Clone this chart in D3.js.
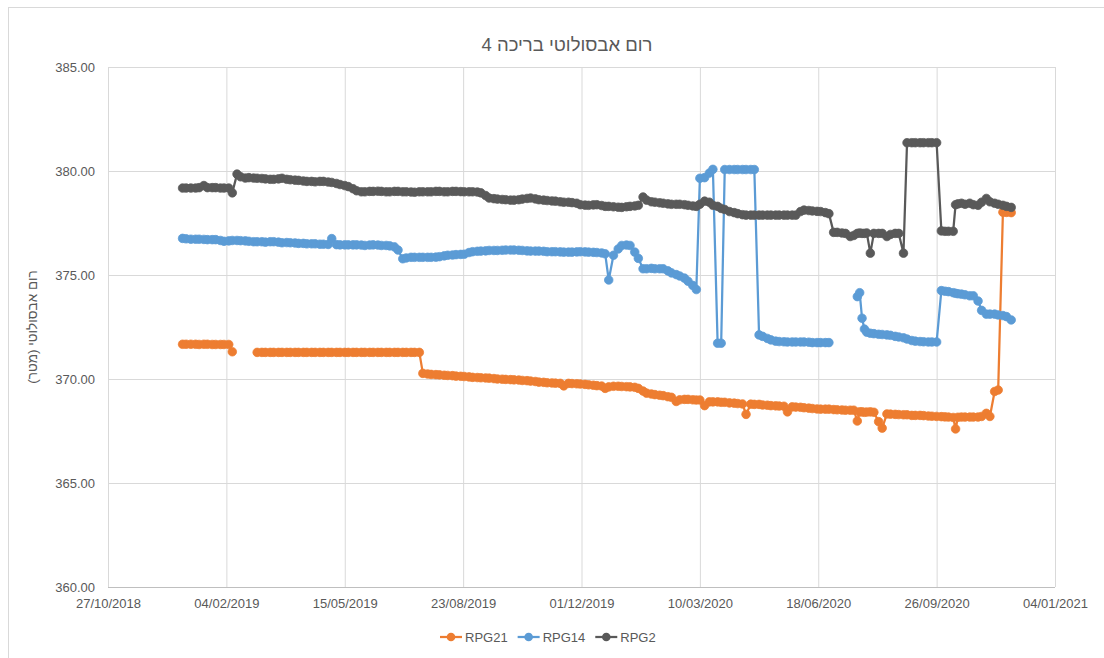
<!DOCTYPE html>
<html><head><meta charset="utf-8">
<script src="https://cdn.jsdelivr.net/npm/d3@7"></script>
<style>
body{margin:0;background:#fff;}
svg{display:block;font-family:"Liberation Sans","DejaVu Sans",Arial,sans-serif;}
</style></head><body>
<svg id="chart" width="1104" height="658"></svg>
<script>
// ---------- DATA ----------
const title = "רום אבסולוטי בריכה 4";
const yTitle = "רום אבסולוטי (מטר)";
const seriesNames = ["RPG21", "RPG14", "RPG2"];
const seriesColors = ["#ED7D31", "#5B9BD5", "#595959"];
const xTickLabels = ["27/10/2018","04/02/2019","15/05/2019","23/08/2019","01/12/2019","10/03/2020","18/06/2020","26/09/2020","04/01/2021"];
const yTickValues = [360, 365, 370, 375, 380, 385];

const dates = [
"2018-12-29","2019-01-01","2019-01-05","2019-01-09","2019-01-12","2019-01-16","2019-01-19","2019-01-23","2019-01-26","2019-01-30",
"2019-02-02","2019-02-06","2019-02-09","2019-02-13","2019-02-16","2019-02-20","2019-02-23","2019-02-27","2019-03-02","2019-03-06",
"2019-03-09","2019-03-13","2019-03-16","2019-03-20","2019-03-23","2019-03-27","2019-03-30","2019-04-03","2019-04-06","2019-04-10",
"2019-04-13","2019-04-17","2019-04-20","2019-04-24","2019-04-27","2019-05-01","2019-05-04","2019-05-08","2019-05-11","2019-05-15",
"2019-05-18","2019-05-22","2019-05-25","2019-05-29","2019-06-01","2019-06-05","2019-06-08","2019-06-12","2019-06-15","2019-06-19",
"2019-06-22","2019-06-26","2019-06-29","2019-07-03","2019-07-06","2019-07-10","2019-07-13","2019-07-17","2019-07-20","2019-07-24",
"2019-07-27","2019-07-31","2019-08-03","2019-08-07","2019-08-10","2019-08-14","2019-08-17","2019-08-21","2019-08-24","2019-08-28",
"2019-08-31","2019-09-04","2019-09-07","2019-09-11","2019-09-14","2019-09-18","2019-09-21","2019-09-25","2019-09-28","2019-10-02",
"2019-10-05","2019-10-09","2019-10-12","2019-10-16","2019-10-19","2019-10-23","2019-10-26","2019-10-30","2019-11-02","2019-11-06",
"2019-11-09","2019-11-13","2019-11-16","2019-11-20","2019-11-23","2019-11-27","2019-11-30","2019-12-04","2019-12-07","2019-12-11",
"2019-12-14","2019-12-18","2019-12-21","2019-12-24","2019-12-28","2020-01-01","2020-01-04","2020-01-08","2020-01-11","2020-01-15",
"2020-01-18","2020-01-22","2020-01-25","2020-01-29","2020-02-01","2020-02-05","2020-02-08","2020-02-12","2020-02-15","2020-02-19",
"2020-02-22","2020-02-26","2020-02-29","2020-03-04","2020-03-07","2020-03-10","2020-03-14","2020-03-18","2020-03-21","2020-03-25",
"2020-03-28","2020-03-31","2020-04-04","2020-04-08","2020-04-11","2020-04-15","2020-04-18","2020-04-22","2020-04-25","2020-04-29",
"2020-05-02","2020-05-06","2020-05-09","2020-05-13","2020-05-16","2020-05-20","2020-05-23","2020-05-27","2020-05-30","2020-06-03",
"2020-06-06","2020-06-10","2020-06-13","2020-06-17","2020-06-20","2020-06-24","2020-06-27","2020-07-01","2020-07-04","2020-07-08",
"2020-07-11","2020-07-15","2020-07-18","2020-07-21","2020-07-23","2020-07-25","2020-07-27","2020-07-29","2020-08-01","2020-08-04",
"2020-08-08","2020-08-11","2020-08-15","2020-08-18","2020-08-22","2020-08-25","2020-08-29","2020-09-01","2020-09-05","2020-09-08",
"2020-09-12","2020-09-15","2020-09-19","2020-09-22","2020-09-26","2020-09-30","2020-10-03","2020-10-06","2020-10-10","2020-10-12",
"2020-10-14","2020-10-17","2020-10-20","2020-10-24","2020-10-27","2020-10-31","2020-11-03","2020-11-07","2020-11-10","2020-11-14",
"2020-11-17","2020-11-21","2020-11-24","2020-11-28"
];

const rpg21 = [
371.67,371.67,371.67,371.67,371.66,371.67,371.67,371.66,371.66,371.66,
371.66,371.66,371.31,null,null,null,null,null,371.28,371.28,
371.28,371.28,371.28,371.28,371.28,371.28,371.28,371.28,371.28,371.28,
371.28,371.28,371.28,371.28,371.28,371.28,371.28,371.28,371.28,371.28,
371.28,371.28,371.28,371.28,371.28,371.28,371.28,371.28,371.28,371.28,
371.28,371.28,371.28,371.28,371.28,371.28,371.28,371.28,370.27,370.24,
370.22,370.21,370.20,370.18,370.17,370.16,370.14,370.13,370.12,370.10,
370.08,370.07,370.06,370.05,370.04,370.02,370.00,369.99,369.98,369.97,
369.96,369.95,369.93,369.92,369.90,369.88,369.85,369.84,369.82,369.81,
369.80,369.79,369.67,369.79,369.78,369.77,369.76,369.74,369.72,369.70,
369.68,369.66,369.55,369.62,369.65,369.65,369.64,369.63,369.62,369.60,
369.55,369.42,369.32,369.28,369.25,369.22,369.20,369.15,369.12,368.92,
369.00,369.02,369.02,369.00,368.99,368.99,368.72,368.90,368.90,368.90,
368.88,368.88,368.85,368.84,368.82,368.80,368.30,368.79,368.78,368.78,
368.75,368.74,368.72,368.71,368.70,368.69,368.42,368.66,368.65,368.64,
368.62,368.60,368.58,368.56,368.55,368.55,368.55,368.53,368.52,368.51,
368.50,368.50,368.50,367.98,368.42,368.42,368.40,368.41,368.42,368.40,
367.95,367.64,368.32,368.31,368.30,368.29,368.28,368.28,368.25,368.25,
368.25,368.24,368.22,368.21,368.20,368.19,368.18,368.17,368.15,367.60,
368.16,368.17,368.17,368.17,368.17,368.17,368.20,368.35,368.20,369.40,
369.47,378.02,378.01,378.00
];

const rpg14 = [
376.76,376.74,376.72,376.72,376.72,376.71,376.70,376.70,376.70,376.66,
376.62,376.64,376.66,376.66,376.65,376.64,376.62,376.60,376.60,376.60,
376.58,376.60,376.60,376.58,376.55,376.56,376.55,376.54,376.52,376.52,
376.50,376.50,376.50,376.48,376.48,376.47,376.75,376.46,376.45,376.45,
376.45,376.45,376.45,376.44,376.42,376.44,376.45,376.44,376.42,376.42,
376.40,376.35,376.20,375.78,375.82,375.85,375.85,375.85,375.85,375.85,
375.85,375.86,375.88,375.92,375.95,375.96,375.98,375.99,376.00,376.08,
376.12,376.14,376.15,376.16,376.18,376.18,376.18,376.19,376.20,376.20,
376.20,376.19,376.18,376.16,376.15,376.15,376.15,376.14,376.12,376.12,
376.12,376.11,376.10,376.10,376.10,376.11,376.12,376.11,376.10,376.09,
376.08,376.06,376.02,374.76,375.95,376.25,376.42,376.44,376.42,376.10,
375.80,375.30,375.30,375.32,375.30,375.30,375.30,375.20,375.10,375.02,
374.95,374.85,374.70,374.50,374.30,379.65,379.68,379.90,380.08,371.72,
371.72,380.07,380.07,380.07,380.07,380.07,380.07,380.07,380.07,372.12,
372.05,371.95,371.88,371.82,371.80,371.79,371.78,371.78,371.78,371.78,
371.78,371.77,371.75,371.75,371.75,371.75,371.75,null,null,null,
null,null,null,373.96,374.15,372.92,372.40,372.25,372.20,372.18,
372.15,372.14,372.12,372.10,372.05,372.02,371.98,371.92,371.85,371.82,
371.80,371.79,371.78,371.78,371.78,374.25,374.22,374.20,374.15,374.12,
374.10,374.08,374.05,374.00,374.00,373.75,373.30,373.12,373.12,373.12,
373.08,373.05,373.00,372.84
];

const rpg2 = [
379.18,379.18,379.18,379.18,379.20,379.30,379.20,379.20,379.20,379.18,
379.18,379.18,378.95,379.85,379.72,379.66,379.68,379.66,379.65,379.64,
379.62,379.60,379.60,379.62,379.65,379.60,379.58,379.56,379.55,379.52,
379.50,379.50,379.48,379.50,379.50,379.47,379.45,379.40,379.35,379.30,
379.25,379.15,379.05,379.00,379.00,379.02,379.02,379.03,379.02,379.00,
379.00,379.02,379.02,379.00,379.00,378.99,378.98,379.00,379.00,379.00,
379.00,379.02,379.02,379.00,379.00,379.02,379.02,379.01,379.00,379.00,
379.00,378.99,378.95,378.82,378.70,378.67,378.65,378.63,378.62,378.60,
378.60,378.62,378.65,378.68,378.70,378.66,378.62,378.60,378.58,378.56,
378.55,378.52,378.50,378.50,378.48,378.45,378.38,378.36,378.35,378.37,
378.38,378.34,378.30,378.30,378.28,378.26,378.25,378.28,378.30,378.32,
378.35,378.75,378.60,378.52,378.50,378.47,378.45,378.42,378.40,378.40,
378.40,378.38,378.35,378.32,378.30,378.40,378.55,378.50,378.35,378.30,
378.20,378.15,378.05,378.00,377.95,377.90,377.88,377.88,377.88,377.88,
377.88,377.88,377.88,377.88,377.88,377.88,377.88,377.88,377.88,378.05,
378.12,378.10,378.08,378.06,378.05,378.00,377.95,377.05,377.05,377.02,
377.00,376.85,376.90,377.00,377.02,377.00,377.00,377.02,376.05,377.00,
377.00,377.00,376.85,376.95,377.00,377.00,376.05,381.36,381.36,381.36,
381.36,381.36,381.36,381.36,381.36,377.12,377.10,377.10,377.10,378.38,
378.42,378.45,378.40,378.45,378.38,378.35,378.50,378.68,378.52,378.45,
378.40,378.35,378.30,378.25
];

// ---------- CHART ----------
const svg = d3.select("#chart");
const plot = {left: 108, right: 1055, top: 67, bottom: 587};
const textColor = "#595959";
const gridColor = "#D9D9D9";

const parseISO = d3.timeParse("%Y-%m-%d");
const parseDMY = d3.timeParse("%d/%m/%Y");
const fmtDMY = d3.timeFormat("%d/%m/%Y");
const xTicks = xTickLabels.map(parseDMY);

const x = d3.scaleTime().domain([xTicks[0], xTicks[xTicks.length - 1]]).range([plot.left, plot.right]);
const y = d3.scaleLinear().domain([360, 385]).range([plot.bottom, plot.top]);

// chart border
svg.append("rect").attr("x", 8.5).attr("y", 7.5).attr("width", 1110).attr("height", 670)
  .attr("fill", "#fff").attr("stroke", "#D9D9D9").attr("stroke-width", 1);

// title
svg.append("text").attr("x", 567).attr("y", 51).attr("text-anchor", "middle")
  .attr("direction", "rtl").attr("font-size", 18.5).attr("fill", textColor).text(title);

// y axis with gridlines
const yAxis = svg.append("g").attr("transform", `translate(${plot.left},0)`)
  .call(d3.axisLeft(y).tickValues(yTickValues).tickSize(-(plot.right - plot.left))
        .tickPadding(13).tickFormat(d3.format(".2f")));
yAxis.select(".domain").remove();
yAxis.selectAll(".tick line").attr("stroke", gridColor).attr("stroke-width", 1);
yAxis.selectAll(".tick text").attr("fill", textColor).attr("font-size", 13)
  .attr("font-family", "Liberation Sans, DejaVu Sans, sans-serif");

// x axis with gridlines
const xAxis = svg.append("g").attr("transform", `translate(0,${plot.bottom})`)
  .call(d3.axisBottom(x).tickValues(xTicks).tickSize(-(plot.bottom - plot.top))
        .tickPadding(12).tickFormat(fmtDMY));
xAxis.select(".domain").remove();
xAxis.selectAll(".tick line").attr("stroke", gridColor).attr("stroke-width", 1);
xAxis.selectAll(".tick text").attr("fill", textColor).attr("font-size", 13)
  .attr("font-family", "Liberation Sans, DejaVu Sans, sans-serif");

// bottom axis line
svg.append("line").attr("x1", plot.left).attr("x2", plot.right)
  .attr("y1", y(360) + 0.5).attr("y2", y(360) + 0.5)
  .attr("stroke", "#BFBFBF").attr("stroke-width", 1);

// y axis title
svg.append("text")
  .attr("transform", `translate(37,${(plot.top + plot.bottom) / 2}) rotate(-90)`)
  .attr("text-anchor", "middle").attr("direction", "rtl")
  .attr("font-size", 13.5).attr("fill", textColor).text(yTitle);

// series
const seriesValues = [rpg21, rpg14, rpg2];
const dateObjs = dates.map(parseISO);
const line = d3.line()
  .defined(d => d.v !== null)
  .x(d => x(d.t)).y(d => y(d.v));

seriesValues.forEach((vals, i) => {
  const pts = dateObjs.map((t, j) => ({t: t, v: vals[j]}));
  const g = svg.append("g");
  g.append("path").datum(pts).attr("d", line)
    .attr("fill", "none").attr("stroke", seriesColors[i])
    .attr("stroke-width", 2.25).attr("stroke-linejoin", "round");
  g.selectAll("circle").data(pts.filter(d => d.v !== null && d.v !== undefined)).join("circle")
    .attr("cx", d => x(d.t)).attr("cy", d => y(d.v)).attr("r", 4.3)
    .attr("fill", seriesColors[i]).attr("stroke", seriesColors[i]).attr("stroke-width", 0.75);
});

// legend
const legendY = 637;
let lx = 440;
seriesNames.forEach((name, i) => {
  const g = svg.append("g");
  g.append("line").attr("x1", lx).attr("x2", lx + 22).attr("y1", legendY).attr("y2", legendY)
    .attr("stroke", seriesColors[i]).attr("stroke-width", 2.25);
  g.append("circle").attr("cx", lx + 11).attr("cy", legendY).attr("r", 4.3)
    .attr("fill", seriesColors[i]);
  const t = g.append("text").attr("x", lx + 25).attr("y", legendY + 4.5)
    .attr("font-size", 13).attr("fill", textColor).text(name);
  lx += 25 + t.node().getComputedTextLength() + 10;
});
</script>
</body></html>
